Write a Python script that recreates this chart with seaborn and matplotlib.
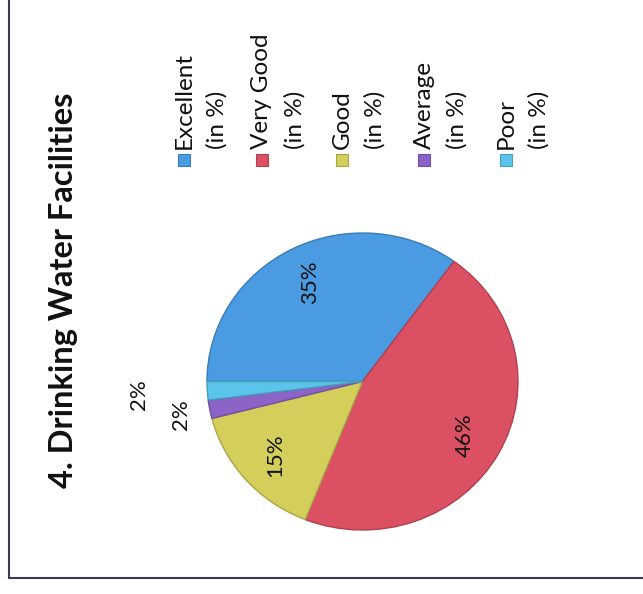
import matplotlib
matplotlib.use("Agg")
import matplotlib.pyplot as plt
import matplotlib.colors as mcolors
from matplotlib.patches import Rectangle
from matplotlib.lines import Line2D
import seaborn as sns
import numpy as np

sns.set_theme(style="white")
plt.rcParams["font.family"] = ["Lato", "DejaVu Sans"]

# data (legend order, drawn clockwise)
categories = ["Excellent", "Very Good", "Good", "Average", "Poor"]
shares = [35, 46, 15, 2, 2]
colors = ["#4A9BE1", "#DC5064", "#D4CE5A", "#8C64C8", "#5AC4EA"]
title = "4. Drinking Water Facilities"

W, H = 643, 594
fig = plt.figure(figsize=(W / 100, H / 100), dpi=100)
fig.patch.set_facecolor("white")


def fx(x):
    return x / W


def fy(y):
    return 1 - y / H


# pie area (scan is slightly stretched, so axes box is not square)
ax = fig.add_axes([fx(207), fy(530), (518 - 207) / W, (530 - 233) / H])
wedges, _ = ax.pie(shares, colors=colors, startangle=180, counterclock=False,
                   wedgeprops=dict(linewidth=1.0))
for w, c in zip(wedges, colors):
    w.set_edgecolor(np.array(mcolors.to_rgb(c)) * 0.8)
ax.set_xlim(-1, 1)
ax.set_ylim(-1, 1)
ax.set_aspect("auto")
ax.axis("off")

# data labels, rotated like the scanned page
label_dist = [0.75, 0.75, 0.75, 1.19, 1.44]
for w, v, d in zip(wedges, shares, label_dist):
    ang = np.deg2rad((w.theta1 + w.theta2) / 2)
    ax.text(d * np.cos(ang), d * np.sin(ang), f"{v}%", rotation=90,
            ha="center", va="center", fontsize=16, color="#111111",
            clip_on=False)

# title
fig.text(fx(64), fy(290), title, rotation=90, ha="center", va="center",
         fontsize=23.5, fontweight="bold", color="#111111")

# legend, drawn by hand because it is rotated
leg_x = [184, 262, 342, 424, 506]
for i, (cat, c) in enumerate(zip(categories, colors)):
    x0 = leg_x[i]
    fig.patches.append(Rectangle((fx(x0 - 6), fy(166)), 12 / W, 12 / H,
                                 transform=fig.transFigure, facecolor=c,
                                 edgecolor=np.array(mcolors.to_rgb(c)) * 0.8,
                                 lw=0.8))
    fig.text(fx(x0), fy(149), cat, rotation=90, rotation_mode="anchor",
             ha="left", va="center", fontsize=17.5, color="#111111")
    fig.text(fx(x0 + 33), fy(149), "(in %)", rotation=90,
             rotation_mode="anchor", ha="left", va="center", fontsize=17.5,
             color="#111111")

# page frame
fig.lines.append(Line2D([fx(9), fx(9)], [fy(0), fy(578)],
                        transform=fig.transFigure, color="#3a3a55", lw=1.5))
fig.lines.append(Line2D([fx(9), fx(643)], [fy(578), fy(578)],
                        transform=fig.transFigure, color="#3a3a55", lw=1.5))

fig.savefig("out.png", dpi=100, facecolor="white")
